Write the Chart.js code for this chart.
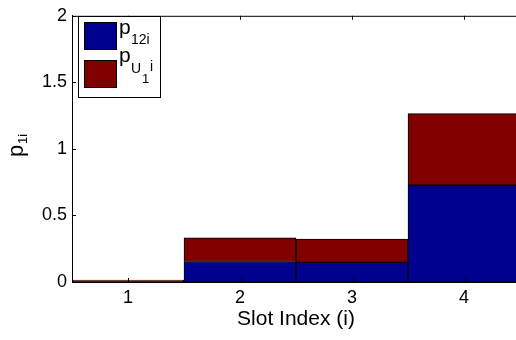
<!DOCTYPE html>
<html><head><meta charset="utf-8">
<script src="https://cdn.jsdelivr.net/npm/chart.js@4"></script>
<style>html,body{margin:0;padding:0;overflow:hidden;background:#fff;width:516px;height:340px}canvas{display:block}</style>
</head><body>
<div style="width:520px;height:340px"><canvas id="c" width="520" height="340"></canvas></div>
<script>
const categories = ['1', '2', '3', '4'];
const p12i = [0.003, 0.154, 0.147, 0.728];
const pU1i = [0.012, 0.177, 0.176, 0.537];
const yTicks = [0, 0.5, 1, 1.5, 2];
const xTitle = 'Slot Index (i)';

const FONT = '"Liberation Sans", Arial, sans-serif';
const BLUE = '#00008f', RED = '#800000';

const decor = {
  id: 'decor',
  afterDraw(chart) {
    const ctx = chart.ctx, a = chart.chartArea;
    const xs = chart.scales.x, ys = chart.scales.y;
    ctx.save();
    ctx.strokeStyle = '#000'; ctx.lineWidth = 1;
    // top border
    ctx.beginPath(); ctx.moveTo(a.left, a.top + 0.5); ctx.lineTo(a.right, a.top + 0.5); ctx.stroke();
    // inward ticks
    ctx.beginPath();
    categories.forEach((c, i) => {
      const x = Math.round(xs.getPixelForValue(i)) + 0.5;
      ctx.moveTo(x, a.bottom); ctx.lineTo(x, a.bottom - 4);
      ctx.moveTo(x, a.top); ctx.lineTo(x, a.top + 4);
    });
    yTicks.forEach(v => {
      const y = Math.round(ys.getPixelForValue(v)) + 0.5;
      ctx.moveTo(a.left, y); ctx.lineTo(a.left + 4, y);
    });
    ctx.stroke();
    // x title
    ctx.fillStyle = '#000';
    ctx.font = '21px ' + FONT;
    ctx.textAlign = 'center';
    ctx.textBaseline = 'alphabetic';
    ctx.fillText(xTitle, (a.left + a.right) / 2, 325);
    // y title p_{1i}
    ctx.translate(23, 157);
    ctx.rotate(-Math.PI / 2);
    ctx.textAlign = 'left';
    ctx.font = '22px ' + FONT;
    ctx.fillText('p', 0, 0);
    ctx.font = '13px ' + FONT;
    ctx.fillText('1i', 13, 4);
    ctx.restore();

    // legend
    ctx.save();
    const lx = 78, ly = 16, lw = 82, lh = 81;
    ctx.fillStyle = '#fff';
    ctx.fillRect(lx, ly, lw, lh);
    ctx.strokeStyle = '#000'; ctx.lineWidth = 1;
    ctx.strokeRect(lx + 0.5, ly + 0.5, lw, lh);
    const ds = chart.data.datasets;
    [[22, ds[0]], [60, ds[1]]].forEach(([y, d]) => {
      ctx.fillStyle = d.backgroundColor;
      ctx.fillRect(84, y, 32, 27);
      ctx.strokeRect(84.5, y + 0.5, 32, 27);
    });
    ctx.fillStyle = '#000';
    ctx.textAlign = 'left';
    ctx.textBaseline = 'alphabetic';
    ctx.font = '21px ' + FONT;
    ctx.fillText('p', 119, 34);
    ctx.font = '14px ' + FONT;
    ctx.fillText('12i', 131, 44);
    ctx.font = '21px ' + FONT;
    ctx.fillText('p', 119, 62);
    ctx.font = '14px ' + FONT;
    ctx.fillText('U', 131, 73);
    ctx.font = '13px ' + FONT;
    ctx.fillText('1', 142, 83);
    ctx.font = '14px ' + FONT;
    ctx.fillText('i', 150, 71);
    ctx.restore();
  }
};

new Chart(document.getElementById('c'), {
  type: 'bar',
  data: {
    labels: categories,
    datasets: [
      { label: 'p12i', data: p12i, backgroundColor: BLUE, borderColor: '#000', borderWidth: 1, borderSkipped: false },
      { label: 'pU1i', data: pU1i, backgroundColor: RED, borderColor: '#000', borderWidth: 1, borderSkipped: false }
    ]
  },
  options: {
    responsive: false,
    animation: false,
    devicePixelRatio: 1,
    layout: { padding: { top: 10, right: 0, left: 0, bottom: 0 } },
    plugins: { legend: { display: false }, tooltip: { enabled: false } },
    datasets: { bar: { barPercentage: 1, categoryPercentage: 1 } },
    scales: {
      x: {
        stacked: true,
        grid: { display: false, drawTicks: false },
        border: { display: true, color: '#000', width: 1 },
        ticks: { color: '#000', font: { family: FONT, size: 18 }, padding: 5, maxRotation: 0 },
        afterFit(s) { s.height = 58; }
      },
      y: {
        stacked: true,
        min: 0, max: 2,
        afterBuildTicks(s) { s.ticks = yTicks.map(v => ({ value: v })); },
        grid: { display: false, drawTicks: false },
        border: { display: true, color: '#000', width: 1 },
        ticks: { color: '#000', font: { family: FONT, size: 18 }, padding: 5, callback: v => String(v) },
        afterFit(s) { s.width = 72; }
      }
    }
  },
  plugins: [decor]
});
</script>
</body></html>
